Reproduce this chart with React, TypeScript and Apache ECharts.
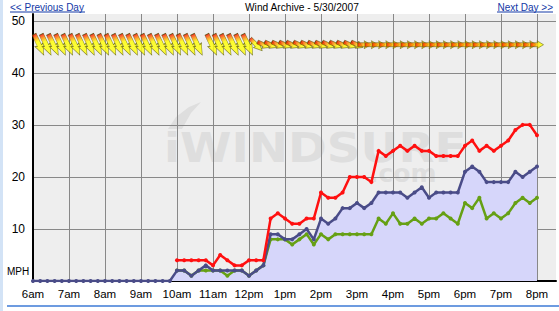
import React, { useEffect, useRef } from 'react';
import * as echarts from 'echarts';

// Sample times (every ~12 minutes, 6am to 8pm)
const times = [
  '6:00', '6:12', '6:24', '6:36', '6:48',
  '7:00', '7:12', '7:24', '7:36', '7:48',
  '8:00', '8:12', '8:24', '8:36', '8:48',
  '9:00', '9:12', '9:24', '9:36', '9:48',
  '10:00', '10:12', '10:24', '10:36', '10:48',
  '11:00', '11:12', '11:24', '11:36', '11:48',
  '12:00', '12:12', '12:24', '12:36', '12:48',
  '13:00', '13:12', '13:24', '13:36', '13:48',
  '14:00', '14:12', '14:24', '14:36', '14:48',
  '15:00', '15:12', '15:24', '15:36', '15:48',
  '16:00', '16:12', '16:24', '16:36', '16:48',
  '17:00', '17:12', '17:24', '17:36', '17:48',
  '18:00', '18:12', '18:24', '18:36', '18:48',
  '19:00', '19:12', '19:24', '19:36', '19:48',
  '20:00',
];

// Wind speeds (MPH); null = no reading
const gust = [
  null, null, null, null, null, null, null, null, null, null,
  null, null, null, null, null, null, null, null, null, null,
  4, 4, 4, 4, 4, 3, 5, 4, 3, 3, 4, 4, 4,
  12, 13, 12, 11, 11, 12, 12,
  17, 16, 16, 17,
  20, 20, 20, 19,
  25, 24, 25, 26, 25, 26, 25, 25, 24, 24, 24, 24,
  26, 27, 25, 26, 25, 26, 27, 29, 30, 30, 28,
];
const average = [
  0, 0, 0, 0, 0, 0, 0, 0, 0, 0,
  0, 0, 0, 0, 0, 0, 0, 0, 0, 0,
  2, 2, 1, 2, 3, 2, 2, 2, 2, 2, 1, 2, 3,
  9, 9, 8, 8, 9, 10, 8,
  12, 11, 12, 14,
  14, 15, 14, 15,
  17, 17, 17, 17, 16, 17, 18, 16, 17, 17, 17, 17,
  21, 22, 21, 19, 19, 19, 19, 21, 20, 21, 22,
];
const lull = [
  null, null, null, null, null, null, null, null, null, null,
  null, null, null, null, null, null, null, null, null, null,
  2, 2, 1, 2, 2, 2, 2, 1, 2, 2, 1, 2, 3,
  8, 8, 8, 7, 8, 9, 7,
  9, 8, 9, 9,
  9, 9, 9, 9,
  12, 11, 13, 11, 11, 12, 11, 12, 12, 13, 12, 11,
  15, 14, 16, 12, 13, 12, 13, 15, 16, 15, 16,
];
// Wind direction (compass degrees the wind blows FROM); null = no arrow
const windFrom = [
  335, 335, 335, 335, 335, 335, 335, 335, 335, 335,
  335, 335, 335, 335, 335, 335, 335, 335, 335, 335,
  335, 335, 335, null, 335, 335, 335, 335, 335, 335,
  null, 315, 295, 295, 295, 295, 295, 295, 295, 295,
  295, 295, 295, 295, 295, 295, 270, 270, 270, 270,
  270, 270, 270, 270, 270, 270, 270, 270, 270, 270,
  270, 270, 270, 270, 270, 270, 270, 270, 270, 270,
  270,
];
const ARROW_LANE = 45.4;

const FONT = '"Liberation Sans", Arial, sans-serif';
const toMin = (s: string) => {
  const [h, m] = s.split(':').map(Number);
  return h * 60 + m;
};
const hourLabel = (v: number) => {
  const h = Math.round(v / 60);
  if (h === 12) return '12pm';
  return h < 12 ? `${h}am` : `${h - 12}pm`;
};

const ARROW_PATH = 'path://M0,2.5L13,2.5L12,0L24,5L12,10L13,7.5L0,7.5Z';

const steepFill = () =>
  new echarts.graphic.LinearGradient(0, 0, 1, 0, [
    { offset: 0, color: '#ff0000' },
    { offset: 0.15, color: '#ff7a00' },
    { offset: 0.35, color: '#ffff00' },
    { offset: 1, color: '#ffff10' },
  ]);
const flatFill = () =>
  new echarts.graphic.LinearGradient(0, 0, 1, 0, [
    { offset: 0, color: '#ee0000' },
    { offset: 0.25, color: '#ff6a00' },
    { offset: 0.5, color: '#ffd000' },
    { offset: 0.7, color: '#ffff00' },
    { offset: 1, color: '#ffff10' },
  ]);

export default function App() {
  const ref = useRef<HTMLDivElement>(null);
  useEffect(() => {
    const chart = echarts.init(ref.current!, null, { renderer: 'svg' });
    const pts = (arr: (number | null)[]) =>
      times.map((t, i) => [toMin(t), arr[i] == null ? '-' : arr[i]]);

    const arrowData: any[] = [];
    times.forEach((t, i) => {
      const from = windFrom[i];
      if (from == null) return;
      const tilt = from - 270;
      arrowData.push({
        value: [toMin(t), ARROW_LANE],
        symbolRotate: -90 - from,
        symbolSize: tilt >= 60 ? [23, 9] : tilt >= 40 ? [17, 8] : [13, 8],
        symbolOffset: tilt >= 60 ? [6, 0] : [0, 0],
        itemStyle: { color: tilt >= 40 ? steepFill() : flatFill() },
      });
    });

    const navy = '#4a4c88';
    const option: any = {
      animation: false,
      grid: { left: 33, right: 3, top: 14, bottom: 30, show: false, outerBoundsMode: 'none' },
      xAxis: {
        type: 'value',
        min: 360,
        max: 360 + 523 / 0.6,
        interval: 60,
        axisLine: { show: true, onZero: false, lineStyle: { color: '#000', width: 2 } },
        axisTick: { show: false },
        axisLabel: {
          formatter: (v: number) => (v % 60 === 0 ? hourLabel(v) : ''),
          color: '#000',
          fontSize: 11.5,
          fontFamily: FONT,
          margin: 7,
          showMaxLabel: false,
        },
        splitLine: {
          show: true,
          showMinLine: false,
          showMaxLine: false,
          lineStyle: { color: '#888', width: 1 },
        },
      },
      yAxis: {
        type: 'value',
        min: 0,
        max: 51.3,
        interval: 10,
        axisLine: { show: true, lineStyle: { color: '#000', width: 2 } },
        axisTick: { show: false },
        axisLabel: {
          formatter: (v: number) => (v % 10 === 0 && v > 0 ? String(v) : ''),
          color: '#000',
          fontSize: 12,
          fontFamily: FONT,
          margin: 8,
          showMinLabel: false,
          showMaxLabel: false,
        },
        splitLine: {
          show: true,
          showMinLine: false,
          showMaxLine: false,
          lineStyle: { color: '#888', width: 1 },
        },
      },
      graphic: [
        { type: 'rect', z: -20, silent: true, shape: { x: 0, y: 0, width: 3, height: 311 }, style: { fill: '#d3e3f6' } },
        { type: 'rect', z: -10, silent: true, shape: { x: 33, y: 14, width: 523, height: 267 }, style: { fill: '#eeeeee' } },
        {
          type: 'polygon', z: -5, silent: true,
          shape: { points: [[168, 129], [176, 117], [189, 107], [201, 102], [191, 113], [182, 129]] },
          style: { fill: '#dedede' },
        },
        {
          type: 'text', z: -5, silent: true, x: 164, y: 148, scaleX: 1.14,
          style: { text: 'iWINDSURF', font: 'bold 41px "DejaVu Sans"', lineHeight: 30, fill: '#dedede', textAlign: 'left', textVerticalAlign: 'middle', align: 'left', verticalAlign: 'middle' },
        },
        {
          type: 'text', z: -5, silent: true, x: 369, y: 173,
          style: { text: '.com', font: 'bold 25px "DejaVu Sans"', lineHeight: 16, fill: '#dedede', textAlign: 'left', textVerticalAlign: 'middle', align: 'left', verticalAlign: 'middle' },
        },
        {
          type: 'text', x: 10, y: 7,
          style: { text: '<< Previous Day', font: `10px ${FONT}`, fill: '#1238a6', textAlign: 'left', textVerticalAlign: 'middle', align: 'left', verticalAlign: 'middle' },
        },
        { type: 'line', shape: { x1: 10, y1: 12, x2: 85, y2: 12 }, style: { stroke: '#1238a6', lineWidth: 1 } },
        {
          type: 'text', x: 245, y: 7,
          style: { text: 'Wind Archive - 5/30/2007', font: `10.2px ${FONT}`, fill: '#000', textAlign: 'left', textVerticalAlign: 'middle', align: 'left', verticalAlign: 'middle' },
        },
        {
          type: 'text', x: 553, y: 7,
          style: { text: 'Next Day >>', font: `10px ${FONT}`, fill: '#1238a6', textAlign: 'right', textVerticalAlign: 'middle', align: 'right', verticalAlign: 'middle' },
        },
        { type: 'line', shape: { x1: 497, y1: 12, x2: 553, y2: 12 }, style: { stroke: '#1238a6', lineWidth: 1 } },
        {
          type: 'text', x: 7, y: 271,
          style: { text: 'MPH', font: `10px ${FONT}`, fill: '#000', textAlign: 'left', textVerticalAlign: 'middle', align: 'left', verticalAlign: 'middle' },
        },
        { type: 'line', shape: { x1: 7, y1: 306, x2: 559, y2: 306 }, style: { stroke: '#3d7ad6', lineWidth: 1.5 } },
      ],
      series: [
        {
          name: 'Average area',
          type: 'line',
          data: pts(average),
          symbol: 'none',
          lineStyle: { width: 0 },
          areaStyle: { color: '#d6d6fa', opacity: 1 },
          z: 2,
          silent: true,
        },
        {
          name: 'Lull',
          type: 'line',
          data: pts(lull),
          symbol: 'circle',
          symbolSize: 4,
          lineStyle: { color: '#66a014', width: 2.5 },
          itemStyle: { color: '#66a014' },
          z: 3,
        },
        {
          name: 'Average',
          type: 'line',
          data: pts(average),
          symbol: 'circle',
          symbolSize: 4,
          lineStyle: { color: navy, width: 2.5 },
          itemStyle: { color: navy },
          z: 4,
        },
        {
          name: 'Gust',
          type: 'line',
          data: pts(gust),
          symbol: 'circle',
          symbolSize: 4,
          lineStyle: { color: '#ff1010', width: 2.5 },
          itemStyle: { color: '#ff1010' },
          z: 5,
        },
        {
          name: 'Direction',
          type: 'scatter',
          data: arrowData,
          symbol: ARROW_PATH,
          clip: false,
          z: 6,
          itemStyle: {
            color: steepFill(),
            borderColor: '#4d4d00',
            borderWidth: 0.6,
          },
        },
      ],
    };
    chart.setOption(option);
    return () => chart.dispose();
  }, []);
  return (
    <div
      ref={ref}
      style={{ position: 'absolute', left: 0, top: 0, width: 559, height: 311, background: '#fff' }}
    />
  );
}
